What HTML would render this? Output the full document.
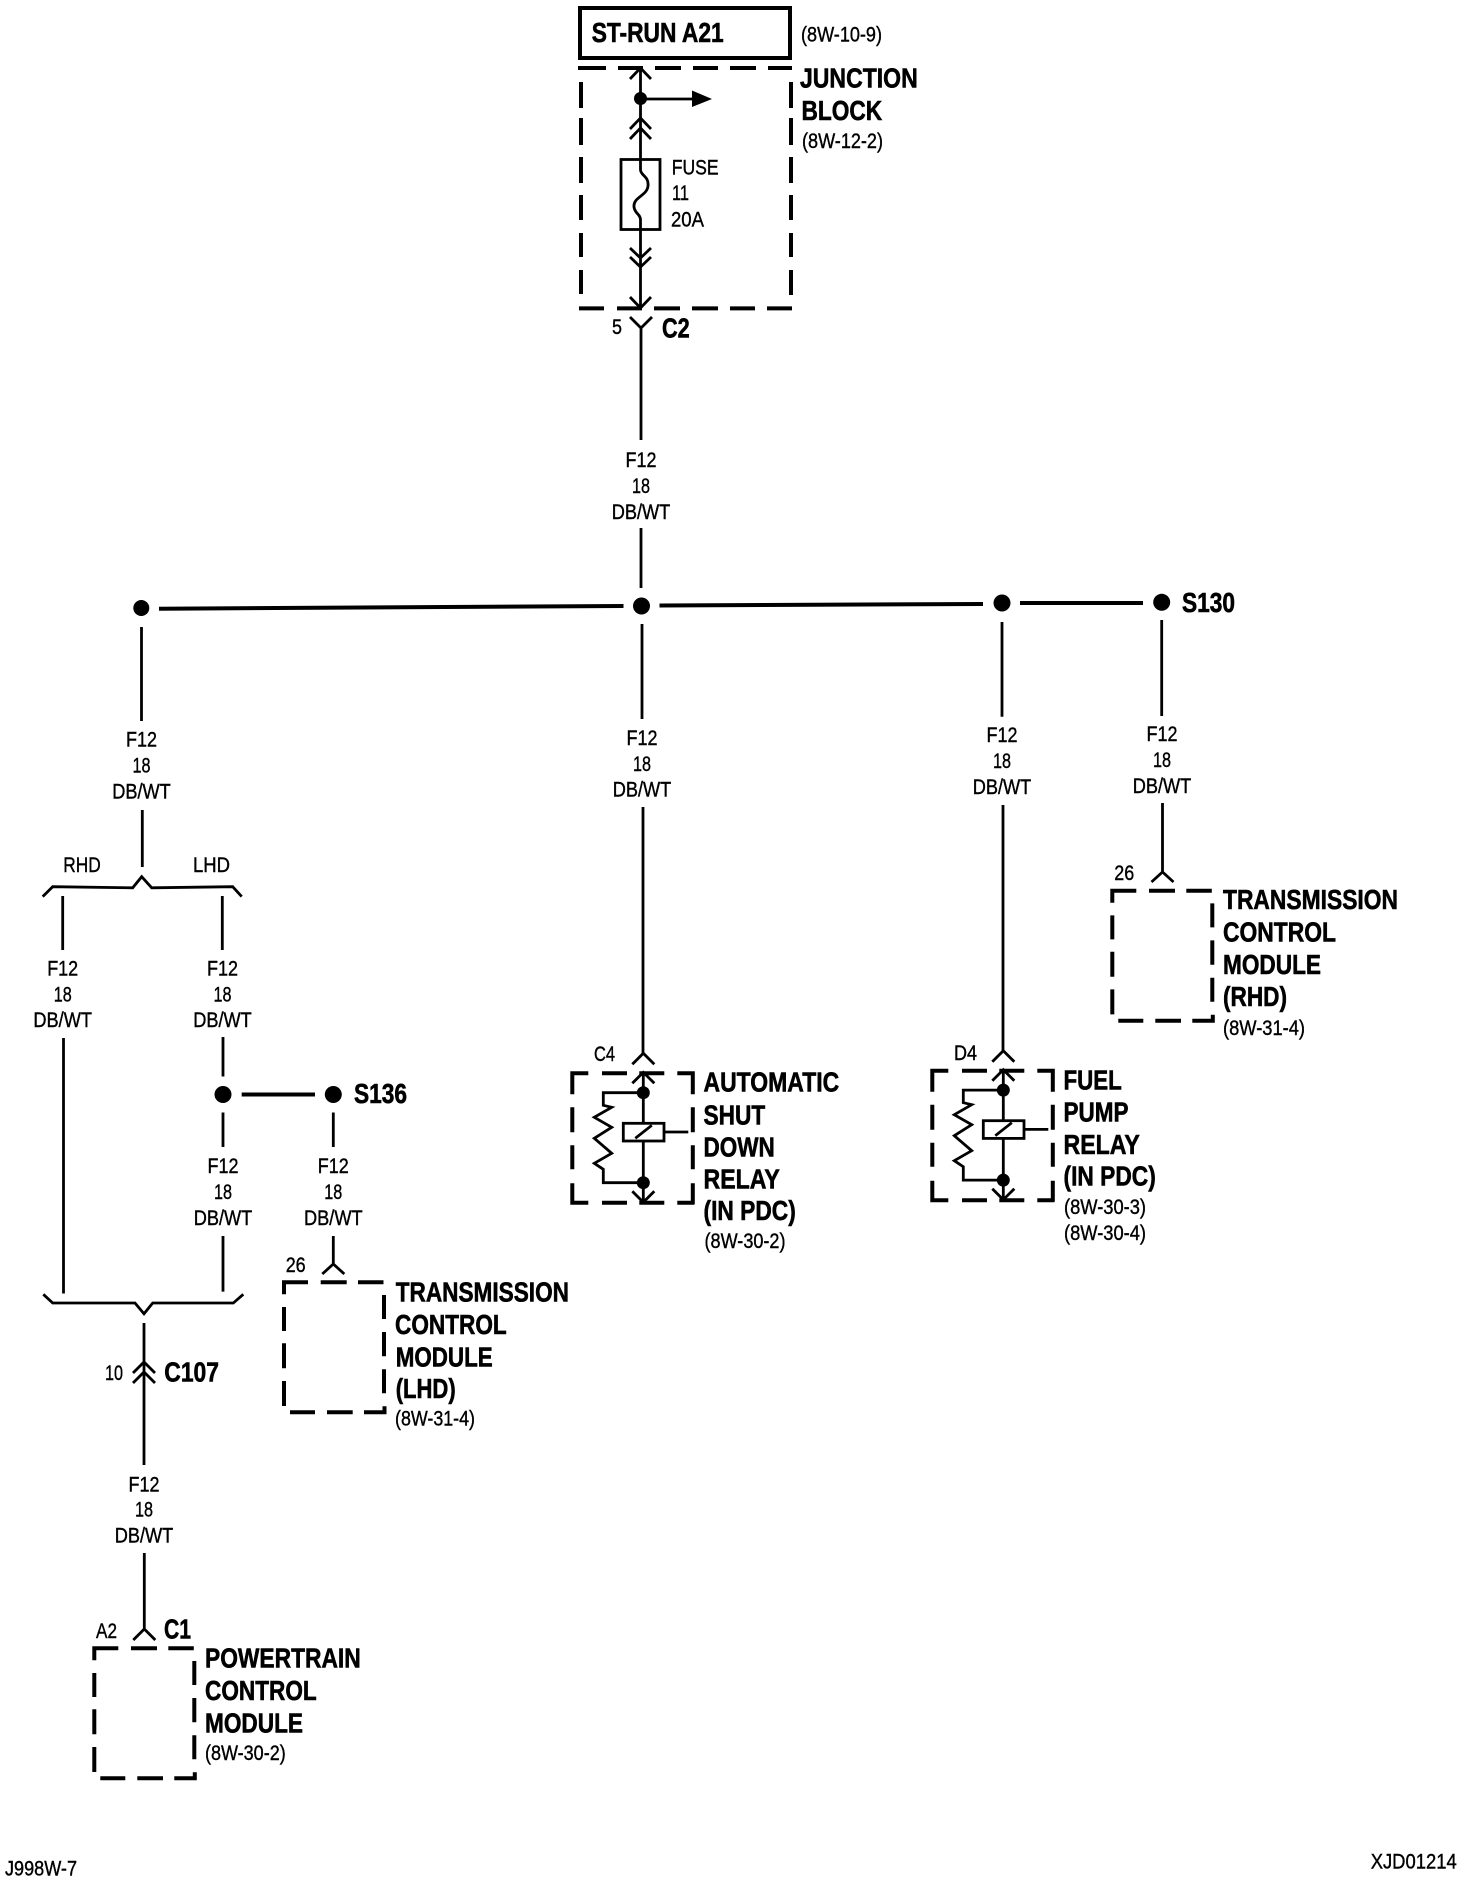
<!DOCTYPE html>
<html><head><meta charset="utf-8"><style>
html,body{margin:0;padding:0;background:#fff}
svg{display:block}
text{fill:#000;stroke:#000;font-family:"Liberation Sans",Arial,sans-serif}
.b{font-weight:bold;font-size:28px;stroke-width:.6px}
.r{font-size:21.5px;stroke-width:.4px}
.m{text-anchor:middle}
.w{fill:none;stroke:#000;stroke-width:2.8}
.d{fill:none;stroke:#000;stroke-width:4}
</style></head><body>
<svg xmlns="http://www.w3.org/2000/svg" width="1472" height="1884" viewBox="0 0 1472 1884">
<defs>
<path id="mod" class="d" d="M-2 0H24M36.7 0H62.7M74 0H99.5M0 -2V12M0 24.7V48.7M0 61V86M0 98.7V123.7M100 12.7V36.7M100 49.7V74M100 87V111M6 130H31M43 130H68.7M80 130H102M100.5 132V124"/>
<g id="relay">
<path class="d" d="M-2 0H16M29.7 0H54.7M67 0H92M105 0H122M0 -2V21M0 34V59M0 72V96M0 110V131M120.5 -2V21M120.5 34V59M120.5 72V96M120.5 110V131M-2 129.5H16M29.7 129.5H54.7M67 129.5H92M105 129.5H122"/>
<path class="w" d="M71 -1V50M71 68V129M60 10L71 -1L82 10M60 118L71 129L82 118M71 -20L60 -9M71 -20L82 -9"/>
<rect class="w" x="51" y="50" width="40.7" height="17.7" stroke-width="3"/>
<path class="w" d="M63 65L79.5 52M91.7 58.7H116M71 19.4H31V32L39.4 34L22 44L39.4 54L22 65L39.4 80L22 90L31 96V109.4H71"/>
<circle cx="71" cy="19.4" r="6.5"/><circle cx="71" cy="109.4" r="6.5"/>
</g>
</defs>

<rect x="580" y="8" width="210" height="50" fill="none" stroke="#000" stroke-width="4"/>
<text class="b" x="591.7" y="42" textLength="132" lengthAdjust="spacingAndGlyphs">ST-RUN A21</text>
<text class="r" x="801" y="41.7" textLength="81" lengthAdjust="spacingAndGlyphs">(8W-10-9)</text>

<path class="d" d="M578 68H606M618 68H643M655 68H681M693 68H718M730 68H756M768 68H792M581 82V108M581 118V145M581 157V183M581 195V220M581 233V257M581 270V294M791 82V108M791 118V145M791 157V183M791 195V220M791 233V257M791 270V295M579 308.4H604M617 308.4H642M654 308.4H680M692 308.4H718M730 308.4H755M767 308.4H792"/>
<text class="b" x="800" y="87.7" textLength="117.7" lengthAdjust="spacingAndGlyphs">JUNCTION</text>
<text class="b" x="801.5" y="120" textLength="80.7" lengthAdjust="spacingAndGlyphs">BLOCK</text>
<text class="r" x="802" y="148" textLength="81" lengthAdjust="spacingAndGlyphs">(8W-12-2)</text>

<path class="w" d="M640.5 68V160M630 79L640.5 68L651 79M630 129L640.5 118L651 129M630 139L640.5 128L651 139"/>
<circle cx="640.5" cy="98.5" r="6.5"/>
<path class="w" d="M641 99H694"/><path d="M692 90.5L712 99L692 107Z"/>
<rect class="w" x="621" y="159.5" width="39" height="70"/>
<path class="w" d="M640.5 160V170C641 176 649 176 648 186C647 196 633 197 634 207C635 214 640.5 214 640.5 220V308M630 248L640.5 258L651 248M630 257L640.5 267L651 257M630 297L640.5 308L651 297"/>
<text class="r" x="671.7" y="174.3" textLength="47" lengthAdjust="spacingAndGlyphs">FUSE</text>
<text class="r" x="672" y="200" textLength="17" lengthAdjust="spacingAndGlyphs">11</text>
<text class="r" x="671" y="226.7" textLength="33" lengthAdjust="spacingAndGlyphs">20A</text>

<path class="w" d="M630 317L641 328L652 317M641 328V440M641 528V588"/>
<text class="r" x="612" y="334" textLength="10" lengthAdjust="spacingAndGlyphs">5</text>
<text class="b" x="662" y="337.3" textLength="27.7" lengthAdjust="spacingAndGlyphs">C2</text>
<text class="r m" x="641" y="467" textLength="31" lengthAdjust="spacingAndGlyphs">F12</text>
<text class="r m" x="641" y="493" textLength="18" lengthAdjust="spacingAndGlyphs">18</text>
<text class="r m" x="641" y="519" textLength="58.6" lengthAdjust="spacingAndGlyphs">DB/WT</text>

<!-- bus -->
<path class="d" d="M159 608.7L623.5 606M659.5 605.5L983 604M1020 603H1143"/>
<circle cx="141.3" cy="608" r="8"/><circle cx="641.5" cy="606" r="8.5"/><circle cx="1002" cy="603" r="8.5"/><circle cx="1161.7" cy="602.3" r="8.5"/>
<text class="b" x="1182" y="612" textLength="53" lengthAdjust="spacingAndGlyphs">S130</text>

<!-- left branch -->
<path class="w" d="M141.5 627V721M142.3 810V867"/>
<text class="r m" x="141.5" y="746.7" textLength="31" lengthAdjust="spacingAndGlyphs">F12</text>
<text class="r m" x="141.5" y="772.7" textLength="18" lengthAdjust="spacingAndGlyphs">18</text>
<text class="r m" x="141.5" y="798.7" textLength="58.6" lengthAdjust="spacingAndGlyphs">DB/WT</text>
<text class="r m" x="82" y="872" textLength="37.5" lengthAdjust="spacingAndGlyphs">RHD</text>
<text class="r m" x="211.5" y="872" textLength="37" lengthAdjust="spacingAndGlyphs">LHD</text>
<path class="w" d="M42.7 896.6L52.7 886.7L132.7 887.8L141.7 876.7L151.7 887.8L232.7 886.7L241.7 896.6"/>
<path class="w" d="M62.7 896V950M63.5 1038V1293.5M222.3 896V950"/>
<text class="r m" x="62.7" y="975.6" textLength="31" lengthAdjust="spacingAndGlyphs">F12</text>
<text class="r m" x="62.7" y="1001.6" textLength="18" lengthAdjust="spacingAndGlyphs">18</text>
<text class="r m" x="62.7" y="1027" textLength="58.6" lengthAdjust="spacingAndGlyphs">DB/WT</text>
<text class="r m" x="222.5" y="975.6" textLength="31" lengthAdjust="spacingAndGlyphs">F12</text>
<text class="r m" x="222.5" y="1001.6" textLength="18" lengthAdjust="spacingAndGlyphs">18</text>
<text class="r m" x="222.5" y="1027" textLength="58.6" lengthAdjust="spacingAndGlyphs">DB/WT</text>
<path class="w" d="M223 1037V1076.5M223 1112.5V1147M223 1236V1291.6M333.3 1112.5V1147M333.3 1236V1264M322.3 1274L333.3 1264L344.3 1274"/>
<circle cx="223" cy="1094.5" r="8.5"/><circle cx="333.3" cy="1094.5" r="8.5"/>
<path class="d" d="M241.7 1094.5H315"/>
<text class="b" x="354" y="1103" textLength="53" lengthAdjust="spacingAndGlyphs">S136</text>
<text class="r m" x="223" y="1173" textLength="31" lengthAdjust="spacingAndGlyphs">F12</text>
<text class="r m" x="223" y="1199" textLength="18" lengthAdjust="spacingAndGlyphs">18</text>
<text class="r m" x="223" y="1225" textLength="58.6" lengthAdjust="spacingAndGlyphs">DB/WT</text>
<text class="r m" x="333.3" y="1173" textLength="31" lengthAdjust="spacingAndGlyphs">F12</text>
<text class="r m" x="333.3" y="1199" textLength="18" lengthAdjust="spacingAndGlyphs">18</text>
<text class="r m" x="333.3" y="1225" textLength="58.6" lengthAdjust="spacingAndGlyphs">DB/WT</text>
<text class="r" x="285.7" y="1272" textLength="20" lengthAdjust="spacingAndGlyphs">26</text>

<use href="#mod" x="284" y="1282.3"/>
<text class="b" x="395.7" y="1301.7" textLength="173.3" lengthAdjust="spacingAndGlyphs">TRANSMISSION</text>
<text class="b" x="395" y="1334" textLength="111.7" lengthAdjust="spacingAndGlyphs">CONTROL</text>
<text class="b" x="395.7" y="1366.7" textLength="97" lengthAdjust="spacingAndGlyphs">MODULE</text>
<text class="b" x="395.7" y="1398" textLength="60" lengthAdjust="spacingAndGlyphs">(LHD)</text>
<text class="r" x="395" y="1425.7" textLength="80" lengthAdjust="spacingAndGlyphs">(8W-31-4)</text>

<path class="w" d="M43.3 1294.3L52.7 1303H135L144 1313.8L152.7 1303H233.3L243.3 1294.3"/>
<path class="w" d="M144 1323V1465M133 1373L144 1362L155 1373M133 1383L144 1372L155 1383M144.3 1553V1629M133.3 1640L144.3 1629L155.3 1640"/>
<text class="r" x="105" y="1380" textLength="18" lengthAdjust="spacingAndGlyphs">10</text>
<text class="b" x="164.3" y="1381.5" textLength="54.7" lengthAdjust="spacingAndGlyphs">C107</text>
<text class="r m" x="144" y="1491.7" textLength="31" lengthAdjust="spacingAndGlyphs">F12</text>
<text class="r m" x="144" y="1516.7" textLength="18" lengthAdjust="spacingAndGlyphs">18</text>
<text class="r m" x="144" y="1542.3" textLength="58.6" lengthAdjust="spacingAndGlyphs">DB/WT</text>
<text class="r" x="96" y="1638" textLength="21" lengthAdjust="spacingAndGlyphs">A2</text>
<text class="b" x="164" y="1638.3" textLength="27" lengthAdjust="spacingAndGlyphs">C1</text>

<use href="#mod" x="94.3" y="1648.3"/>
<text class="b" x="205" y="1667.7" textLength="155.7" lengthAdjust="spacingAndGlyphs">POWERTRAIN</text>
<text class="b" x="205" y="1700" textLength="111.7" lengthAdjust="spacingAndGlyphs">CONTROL</text>
<text class="b" x="205" y="1732.3" textLength="98" lengthAdjust="spacingAndGlyphs">MODULE</text>
<text class="r" x="205" y="1760" textLength="80.7" lengthAdjust="spacingAndGlyphs">(8W-30-2)</text>

<!-- ASD -->
<path class="w" d="M642 624V719M643 807V1053"/>
<text class="r m" x="642" y="745" textLength="31" lengthAdjust="spacingAndGlyphs">F12</text>
<text class="r m" x="642" y="771" textLength="18" lengthAdjust="spacingAndGlyphs">18</text>
<text class="r m" x="642" y="796.5" textLength="58.6" lengthAdjust="spacingAndGlyphs">DB/WT</text>
<text class="r" x="594" y="1061" textLength="21" lengthAdjust="spacingAndGlyphs">C4</text>
<use href="#relay" x="572.3" y="1073.3"/>
<text class="b" x="703.5" y="1091.7" textLength="135.7" lengthAdjust="spacingAndGlyphs">AUTOMATIC</text>
<text class="b" x="703.5" y="1124.3" textLength="61.7" lengthAdjust="spacingAndGlyphs">SHUT</text>
<text class="b" x="703.5" y="1156.7" textLength="71.3" lengthAdjust="spacingAndGlyphs">DOWN</text>
<text class="b" x="703.5" y="1188.3" textLength="76.3" lengthAdjust="spacingAndGlyphs">RELAY</text>
<text class="b" x="703.5" y="1220" textLength="92.3" lengthAdjust="spacingAndGlyphs">(IN PDC)</text>
<text class="r" x="704.5" y="1248" textLength="81" lengthAdjust="spacingAndGlyphs">(8W-30-2)</text>

<!-- Fuel -->
<path class="w" d="M1002 622V716.7M1003 805V1051"/>
<text class="r m" x="1002" y="742" textLength="31" lengthAdjust="spacingAndGlyphs">F12</text>
<text class="r m" x="1002" y="768" textLength="18" lengthAdjust="spacingAndGlyphs">18</text>
<text class="r m" x="1002" y="794" textLength="58.6" lengthAdjust="spacingAndGlyphs">DB/WT</text>
<text class="r" x="954" y="1060" textLength="23" lengthAdjust="spacingAndGlyphs">D4</text>
<use href="#relay" x="932.3" y="1070.7"/>
<text class="b" x="1063.5" y="1089.3" textLength="58.3" lengthAdjust="spacingAndGlyphs">FUEL</text>
<text class="b" x="1063.5" y="1121.7" textLength="65" lengthAdjust="spacingAndGlyphs">PUMP</text>
<text class="b" x="1063.5" y="1154" textLength="76.3" lengthAdjust="spacingAndGlyphs">RELAY</text>
<text class="b" x="1063.5" y="1185.7" textLength="92.3" lengthAdjust="spacingAndGlyphs">(IN PDC)</text>
<text class="r" x="1064" y="1214" textLength="82" lengthAdjust="spacingAndGlyphs">(8W-30-3)</text>
<text class="r" x="1064" y="1240" textLength="82" lengthAdjust="spacingAndGlyphs">(8W-30-4)</text>

<!-- TCM RHD -->
<path class="w" d="M1161.7 620V716M1162.5 803V872M1151.5 882L1162.5 872L1173.5 882"/>
<text class="r m" x="1162" y="741" textLength="31" lengthAdjust="spacingAndGlyphs">F12</text>
<text class="r m" x="1162" y="767" textLength="18" lengthAdjust="spacingAndGlyphs">18</text>
<text class="r m" x="1162" y="793" textLength="58.6" lengthAdjust="spacingAndGlyphs">DB/WT</text>
<text class="r" x="1114.3" y="880" textLength="20" lengthAdjust="spacingAndGlyphs">26</text>
<use href="#mod" x="1112.3" y="890.7"/>
<text class="b" x="1223" y="909" textLength="175" lengthAdjust="spacingAndGlyphs">TRANSMISSION</text>
<text class="b" x="1223" y="941.7" textLength="113" lengthAdjust="spacingAndGlyphs">CONTROL</text>
<text class="b" x="1223" y="974" textLength="98" lengthAdjust="spacingAndGlyphs">MODULE</text>
<text class="b" x="1223" y="1006" textLength="64" lengthAdjust="spacingAndGlyphs">(RHD)</text>
<text class="r" x="1223" y="1035" textLength="82" lengthAdjust="spacingAndGlyphs">(8W-31-4)</text>

<text class="r" x="5" y="1875.7" textLength="72" lengthAdjust="spacingAndGlyphs">J998W-7</text>
<text class="r" x="1370.7" y="1868.3" textLength="86" lengthAdjust="spacingAndGlyphs">XJD01214</text>
</svg>
</body></html>
